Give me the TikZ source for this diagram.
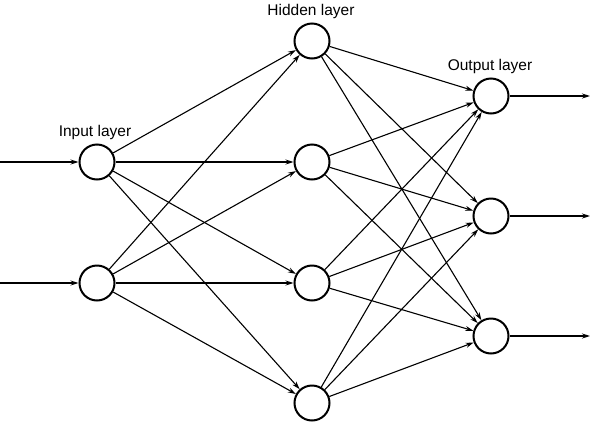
\documentclass[tikz,border=0pt]{standalone}
\usepackage{fontspec}
\setmainfont{Liberation Sans}
\usetikzlibrary{arrows.meta}
\begin{document}
\begin{tikzpicture}[x=1pt,y=-1pt,
  neuron/.style={circle,draw,line width=2pt,minimum size=35pt,inner sep=0pt},
  conn/.style={line width=1.1pt,-{Stealth[length=8pt,width=5pt]}},
  lbl/.style={font=\fontsize{15.5}{17}\selectfont,inner sep=0pt}]
\useasboundingbox (0,0) rectangle (590,424);
\node[neuron] (i1) at (97,162) {};
\node[neuron] (i2) at (97,283) {};
\node[neuron] (h1) at (312,41) {};
\node[neuron] (h2) at (312,162) {};
\node[neuron] (h3) at (312,283) {};
\node[neuron] (h4) at (312,403) {};
\node[neuron] (o1) at (491,96) {};
\node[neuron] (o2) at (491,216) {};
\node[neuron] (o3) at (491,336) {};
\node[lbl] (li) at (95,132) {Input layer};
\node[lbl] (lh) at (311,11) {Hidden layer};
\node[lbl] (lo) at (490,66) {Output layer};
\coordinate (a1) at (0,162);
\coordinate (a2) at (0,283);
\coordinate (b1) at (590,96);
\coordinate (b2) at (590,216);
\coordinate (b3) at (590,336);
\draw[conn] (a1) -- (i1);
\draw[conn] (a2) -- (i2);
\foreach \i in {1,2}{\foreach \h in {1,2,3,4}{\draw[conn] (i\i) -- (h\h);}}
\foreach \h in {1,2,3,4}{\foreach \o in {1,2,3}{\draw[conn] (h\h) -- (o\o);}}
\draw[conn] (o1) -- (b1);
\draw[conn] (o2) -- (b2);
\draw[conn] (o3) -- (b3);
\end{tikzpicture}
\end{document}
